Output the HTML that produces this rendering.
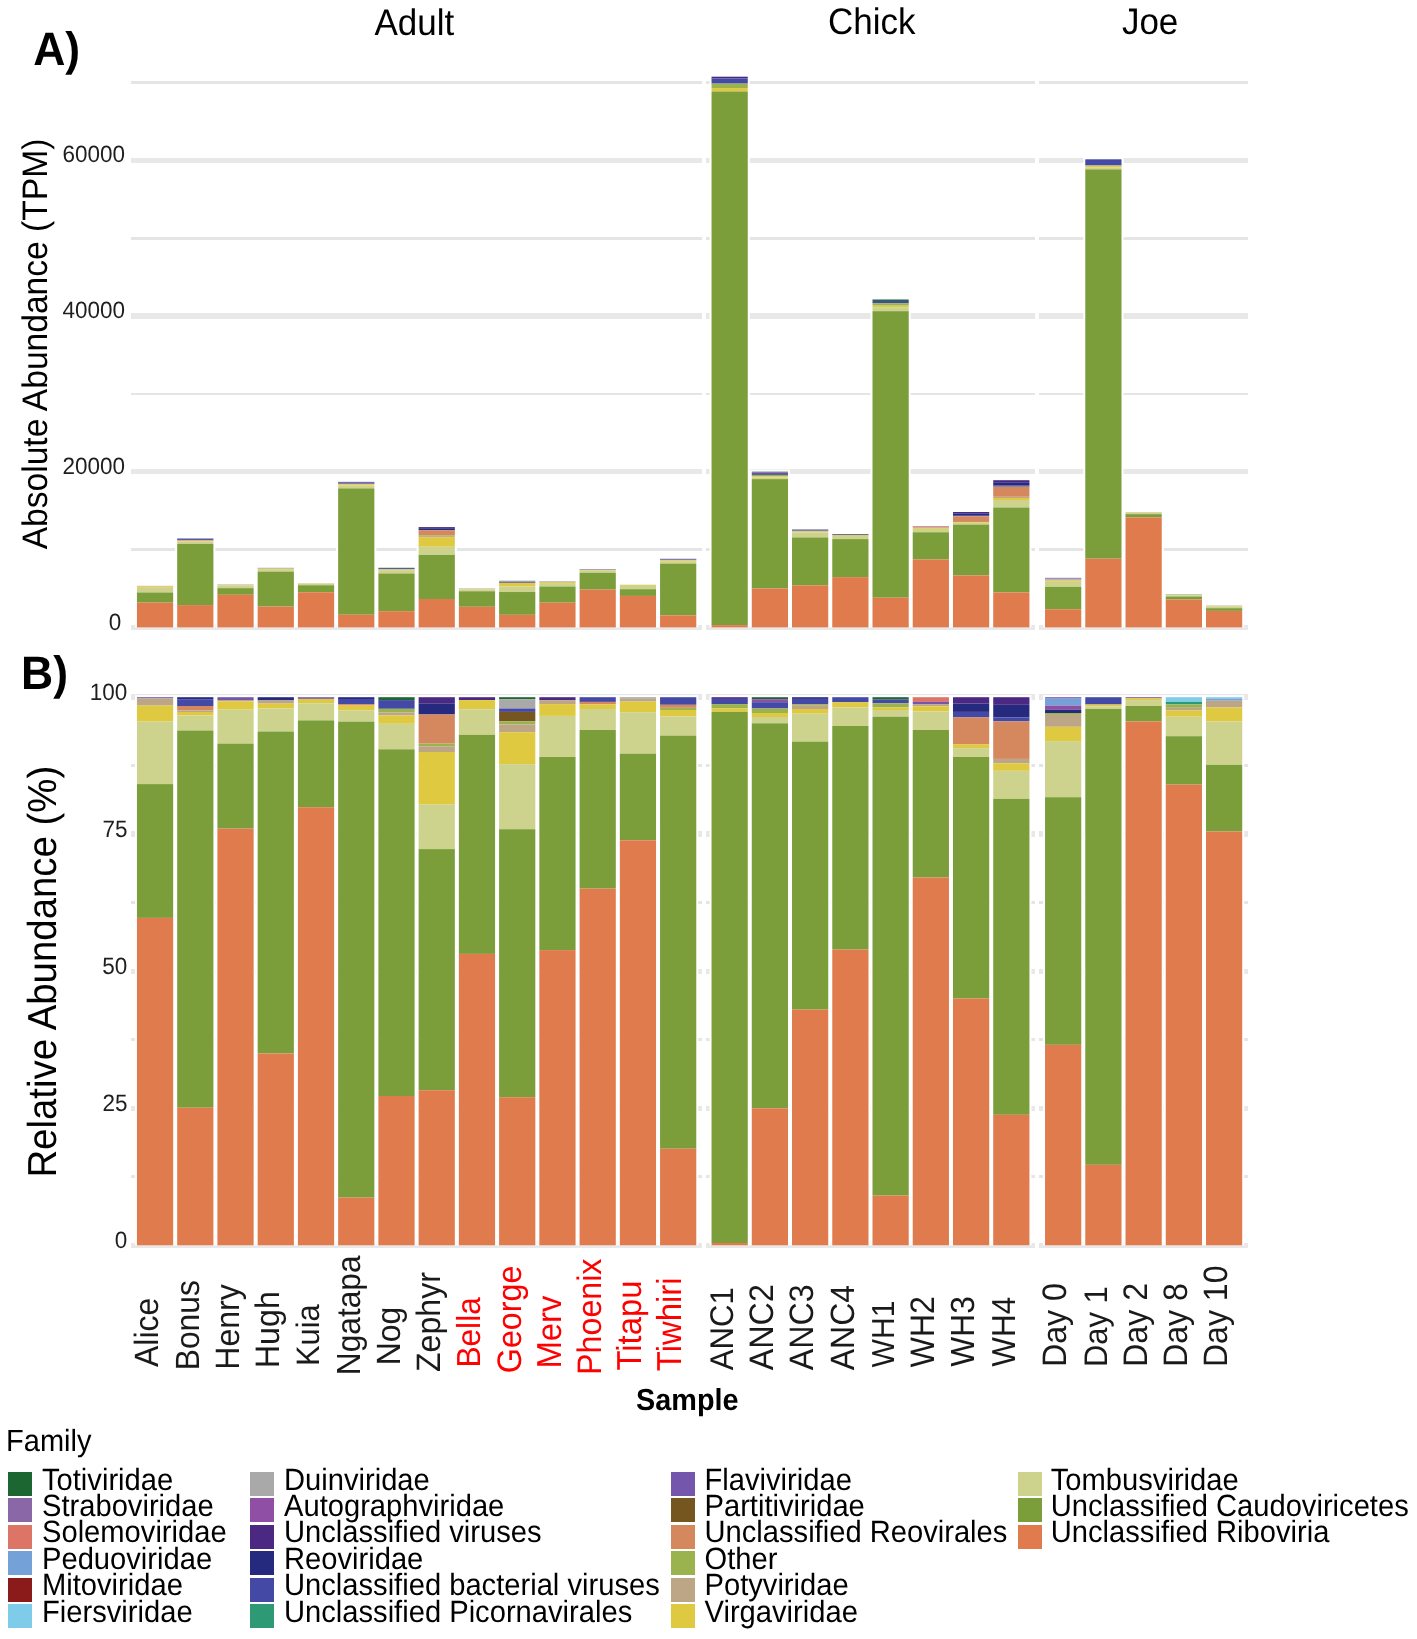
<!DOCTYPE html>
<html><head><meta charset="utf-8"><style>
html,body{margin:0;padding:0;background:#fff;}
body{width:1417px;height:1639px;overflow:hidden;}
svg{display:block;will-change:transform;}
text{font-family:"Liberation Sans",sans-serif;}
</style></head><body>
<svg width="1417" height="1639" viewBox="0 0 1417 1639" shape-rendering="crispEdges" text-rendering="geometricPrecision">
<rect x="0" y="0" width="1417" height="1639" fill="#fff"/>
<rect x="130.90" y="624.65" width="571.41" height="5.5" fill="#E8E8E8"/>
<rect x="130.90" y="548.17" width="571.41" height="2.8" fill="#E5E5E5"/>
<rect x="130.90" y="468.98" width="571.41" height="5.5" fill="#E8E8E8"/>
<rect x="130.90" y="392.50" width="571.41" height="2.8" fill="#E5E5E5"/>
<rect x="130.90" y="313.32" width="571.41" height="5.5" fill="#E8E8E8"/>
<rect x="130.90" y="236.83" width="571.41" height="2.8" fill="#E5E5E5"/>
<rect x="130.90" y="157.65" width="571.41" height="5.5" fill="#E8E8E8"/>
<rect x="130.90" y="81.17" width="571.41" height="2.8" fill="#E5E5E5"/>
<rect x="130.90" y="1242.55" width="571.41" height="5.5" fill="#E8E8E8"/>
<rect x="130.90" y="1175.39" width="571.41" height="2.8" fill="#E5E5E5"/>
<rect x="130.90" y="1105.53" width="571.41" height="5.5" fill="#E8E8E8"/>
<rect x="130.90" y="1038.36" width="571.41" height="2.8" fill="#E5E5E5"/>
<rect x="130.90" y="968.50" width="571.41" height="5.5" fill="#E8E8E8"/>
<rect x="130.90" y="901.34" width="571.41" height="2.8" fill="#E5E5E5"/>
<rect x="130.90" y="831.48" width="571.41" height="5.5" fill="#E8E8E8"/>
<rect x="130.90" y="764.31" width="571.41" height="2.8" fill="#E5E5E5"/>
<rect x="130.90" y="694.45" width="571.41" height="5.5" fill="#E8E8E8"/>
<rect x="705.50" y="624.65" width="329.97" height="5.5" fill="#E8E8E8"/>
<rect x="705.50" y="548.17" width="329.97" height="2.8" fill="#E5E5E5"/>
<rect x="705.50" y="468.98" width="329.97" height="5.5" fill="#E8E8E8"/>
<rect x="705.50" y="392.50" width="329.97" height="2.8" fill="#E5E5E5"/>
<rect x="705.50" y="313.32" width="329.97" height="5.5" fill="#E8E8E8"/>
<rect x="705.50" y="236.83" width="329.97" height="2.8" fill="#E5E5E5"/>
<rect x="705.50" y="157.65" width="329.97" height="5.5" fill="#E8E8E8"/>
<rect x="705.50" y="81.17" width="329.97" height="2.8" fill="#E5E5E5"/>
<rect x="705.50" y="1242.55" width="329.97" height="5.5" fill="#E8E8E8"/>
<rect x="705.50" y="1175.39" width="329.97" height="2.8" fill="#E5E5E5"/>
<rect x="705.50" y="1105.53" width="329.97" height="5.5" fill="#E8E8E8"/>
<rect x="705.50" y="1038.36" width="329.97" height="2.8" fill="#E5E5E5"/>
<rect x="705.50" y="968.50" width="329.97" height="5.5" fill="#E8E8E8"/>
<rect x="705.50" y="901.34" width="329.97" height="2.8" fill="#E5E5E5"/>
<rect x="705.50" y="831.48" width="329.97" height="5.5" fill="#E8E8E8"/>
<rect x="705.50" y="764.31" width="329.97" height="2.8" fill="#E5E5E5"/>
<rect x="705.50" y="694.45" width="329.97" height="5.5" fill="#E8E8E8"/>
<rect x="1039.00" y="624.65" width="209.25" height="5.5" fill="#E8E8E8"/>
<rect x="1039.00" y="548.17" width="209.25" height="2.8" fill="#E5E5E5"/>
<rect x="1039.00" y="468.98" width="209.25" height="5.5" fill="#E8E8E8"/>
<rect x="1039.00" y="392.50" width="209.25" height="2.8" fill="#E5E5E5"/>
<rect x="1039.00" y="313.32" width="209.25" height="5.5" fill="#E8E8E8"/>
<rect x="1039.00" y="236.83" width="209.25" height="2.8" fill="#E5E5E5"/>
<rect x="1039.00" y="157.65" width="209.25" height="5.5" fill="#E8E8E8"/>
<rect x="1039.00" y="81.17" width="209.25" height="2.8" fill="#E5E5E5"/>
<rect x="1039.00" y="1242.55" width="209.25" height="5.5" fill="#E8E8E8"/>
<rect x="1039.00" y="1175.39" width="209.25" height="2.8" fill="#E5E5E5"/>
<rect x="1039.00" y="1105.53" width="209.25" height="5.5" fill="#E8E8E8"/>
<rect x="1039.00" y="1038.36" width="209.25" height="2.8" fill="#E5E5E5"/>
<rect x="1039.00" y="968.50" width="209.25" height="5.5" fill="#E8E8E8"/>
<rect x="1039.00" y="901.34" width="209.25" height="2.8" fill="#E5E5E5"/>
<rect x="1039.00" y="831.48" width="209.25" height="5.5" fill="#E8E8E8"/>
<rect x="1039.00" y="764.31" width="209.25" height="2.8" fill="#E5E5E5"/>
<rect x="1039.00" y="694.45" width="209.25" height="5.5" fill="#E8E8E8"/>
<g shape-rendering="auto">
<rect x="134.94" y="695.20" width="40.22" height="550.10" fill="#fff"/>
<rect x="134.94" y="583.90" width="40.22" height="43.50" fill="#fff"/>
<rect x="136.94" y="697.20" width="36.22" height="1.20" fill="#7456AD"/>
<rect x="136.94" y="698.40" width="36.22" height="7.20" fill="#BDA685"/>
<rect x="136.94" y="705.60" width="36.22" height="16.00" fill="#DFC940"/>
<rect x="136.94" y="721.60" width="36.22" height="62.50" fill="#CDD38D"/>
<rect x="136.94" y="784.10" width="36.22" height="133.80" fill="#7B9E3B"/>
<rect x="136.94" y="917.90" width="36.22" height="327.40" fill="#E07B4E"/>
<rect x="136.94" y="585.90" width="36.22" height="0.09" fill="#7456AD"/>
<rect x="136.94" y="585.99" width="36.22" height="0.55" fill="#BDA685"/>
<rect x="136.94" y="586.54" width="36.22" height="1.21" fill="#DFC940"/>
<rect x="136.94" y="587.75" width="36.22" height="4.73" fill="#CDD38D"/>
<rect x="136.94" y="592.48" width="36.22" height="10.13" fill="#7B9E3B"/>
<rect x="136.94" y="602.61" width="36.22" height="24.79" fill="#E07B4E"/>
<rect x="175.18" y="695.20" width="40.22" height="550.10" fill="#fff"/>
<rect x="175.18" y="536.50" width="40.22" height="90.90" fill="#fff"/>
<rect x="177.18" y="697.20" width="36.22" height="2.00" fill="#262A7F"/>
<rect x="177.18" y="699.20" width="36.22" height="6.80" fill="#4349A5"/>
<rect x="177.18" y="706.00" width="36.22" height="4.50" fill="#D5875E"/>
<rect x="177.18" y="710.50" width="36.22" height="1.50" fill="#BDA685"/>
<rect x="177.18" y="712.00" width="36.22" height="3.50" fill="#DFC940"/>
<rect x="177.18" y="715.50" width="36.22" height="15.00" fill="#CDD38D"/>
<rect x="177.18" y="730.50" width="36.22" height="377.20" fill="#7B9E3B"/>
<rect x="177.18" y="1107.70" width="36.22" height="137.60" fill="#E07B4E"/>
<rect x="177.18" y="538.50" width="36.22" height="0.32" fill="#262A7F"/>
<rect x="177.18" y="538.82" width="36.22" height="1.10" fill="#4349A5"/>
<rect x="177.18" y="539.93" width="36.22" height="0.73" fill="#D5875E"/>
<rect x="177.18" y="540.66" width="36.22" height="0.24" fill="#BDA685"/>
<rect x="177.18" y="540.90" width="36.22" height="0.57" fill="#DFC940"/>
<rect x="177.18" y="541.47" width="36.22" height="2.43" fill="#CDD38D"/>
<rect x="177.18" y="543.90" width="36.22" height="61.18" fill="#7B9E3B"/>
<rect x="177.18" y="605.08" width="36.22" height="22.32" fill="#E07B4E"/>
<rect x="215.42" y="695.20" width="40.22" height="550.10" fill="#fff"/>
<rect x="215.42" y="582.50" width="40.22" height="44.90" fill="#fff"/>
<rect x="217.42" y="697.20" width="36.22" height="2.80" fill="#7456AD"/>
<rect x="217.42" y="700.00" width="36.22" height="1.40" fill="#BDA685"/>
<rect x="217.42" y="701.40" width="36.22" height="8.20" fill="#DFC940"/>
<rect x="217.42" y="709.60" width="36.22" height="34.00" fill="#CDD38D"/>
<rect x="217.42" y="743.60" width="36.22" height="85.00" fill="#7B9E3B"/>
<rect x="217.42" y="828.60" width="36.22" height="416.70" fill="#E07B4E"/>
<rect x="217.42" y="584.50" width="36.22" height="0.22" fill="#7456AD"/>
<rect x="217.42" y="584.72" width="36.22" height="0.11" fill="#BDA685"/>
<rect x="217.42" y="584.83" width="36.22" height="0.64" fill="#DFC940"/>
<rect x="217.42" y="585.47" width="36.22" height="2.66" fill="#CDD38D"/>
<rect x="217.42" y="588.13" width="36.22" height="6.65" fill="#7B9E3B"/>
<rect x="217.42" y="594.78" width="36.22" height="32.62" fill="#E07B4E"/>
<rect x="255.66" y="695.20" width="40.22" height="550.10" fill="#fff"/>
<rect x="255.66" y="565.90" width="40.22" height="61.50" fill="#fff"/>
<rect x="257.66" y="697.20" width="36.22" height="3.20" fill="#262A7F"/>
<rect x="257.66" y="700.40" width="36.22" height="3.20" fill="#BDA685"/>
<rect x="257.66" y="703.60" width="36.22" height="4.90" fill="#DFC940"/>
<rect x="257.66" y="708.50" width="36.22" height="23.00" fill="#CDD38D"/>
<rect x="257.66" y="731.50" width="36.22" height="322.00" fill="#7B9E3B"/>
<rect x="257.66" y="1053.50" width="36.22" height="191.80" fill="#E07B4E"/>
<rect x="257.66" y="567.90" width="36.22" height="0.35" fill="#262A7F"/>
<rect x="257.66" y="568.25" width="36.22" height="0.35" fill="#BDA685"/>
<rect x="257.66" y="568.59" width="36.22" height="0.53" fill="#DFC940"/>
<rect x="257.66" y="569.13" width="36.22" height="2.50" fill="#CDD38D"/>
<rect x="257.66" y="571.62" width="36.22" height="34.96" fill="#7B9E3B"/>
<rect x="257.66" y="606.58" width="36.22" height="20.82" fill="#E07B4E"/>
<rect x="295.90" y="695.20" width="40.22" height="550.10" fill="#fff"/>
<rect x="295.90" y="581.40" width="40.22" height="46.00" fill="#fff"/>
<rect x="297.90" y="697.20" width="36.22" height="1.70" fill="#7456AD"/>
<rect x="297.90" y="698.90" width="36.22" height="4.40" fill="#DFC940"/>
<rect x="297.90" y="703.30" width="36.22" height="17.10" fill="#CDD38D"/>
<rect x="297.90" y="720.40" width="36.22" height="86.80" fill="#7B9E3B"/>
<rect x="297.90" y="807.20" width="36.22" height="438.10" fill="#E07B4E"/>
<rect x="297.90" y="583.40" width="36.22" height="0.14" fill="#7456AD"/>
<rect x="297.90" y="583.54" width="36.22" height="0.35" fill="#DFC940"/>
<rect x="297.90" y="583.89" width="36.22" height="1.37" fill="#CDD38D"/>
<rect x="297.90" y="585.26" width="36.22" height="6.97" fill="#7B9E3B"/>
<rect x="297.90" y="592.23" width="36.22" height="35.17" fill="#E07B4E"/>
<rect x="336.14" y="695.20" width="40.22" height="550.10" fill="#fff"/>
<rect x="336.14" y="479.90" width="40.22" height="147.50" fill="#fff"/>
<rect x="338.14" y="697.20" width="36.22" height="1.80" fill="#262A7F"/>
<rect x="338.14" y="699.00" width="36.22" height="5.10" fill="#4349A5"/>
<rect x="338.14" y="704.10" width="36.22" height="1.50" fill="#D5875E"/>
<rect x="338.14" y="705.60" width="36.22" height="4.70" fill="#DFC940"/>
<rect x="338.14" y="710.30" width="36.22" height="11.30" fill="#CDD38D"/>
<rect x="338.14" y="721.60" width="36.22" height="476.00" fill="#7B9E3B"/>
<rect x="338.14" y="1197.60" width="36.22" height="47.70" fill="#E07B4E"/>
<rect x="338.14" y="481.90" width="36.22" height="0.48" fill="#262A7F"/>
<rect x="338.14" y="482.38" width="36.22" height="1.35" fill="#4349A5"/>
<rect x="338.14" y="483.73" width="36.22" height="0.40" fill="#D5875E"/>
<rect x="338.14" y="484.13" width="36.22" height="1.25" fill="#DFC940"/>
<rect x="338.14" y="485.38" width="36.22" height="3.00" fill="#CDD38D"/>
<rect x="338.14" y="488.38" width="36.22" height="126.36" fill="#7B9E3B"/>
<rect x="338.14" y="614.74" width="36.22" height="12.66" fill="#E07B4E"/>
<rect x="376.38" y="695.20" width="40.22" height="550.10" fill="#fff"/>
<rect x="376.38" y="565.80" width="40.22" height="61.60" fill="#fff"/>
<rect x="378.38" y="697.20" width="36.22" height="2.90" fill="#1B6631"/>
<rect x="378.38" y="700.10" width="36.22" height="8.70" fill="#4349A5"/>
<rect x="378.38" y="708.80" width="36.22" height="3.70" fill="#9BB34F"/>
<rect x="378.38" y="712.50" width="36.22" height="3.00" fill="#BDA685"/>
<rect x="378.38" y="715.50" width="36.22" height="8.30" fill="#DFC940"/>
<rect x="378.38" y="723.80" width="36.22" height="25.50" fill="#CDD38D"/>
<rect x="378.38" y="749.30" width="36.22" height="346.70" fill="#7B9E3B"/>
<rect x="378.38" y="1096.00" width="36.22" height="149.30" fill="#E07B4E"/>
<rect x="378.38" y="567.80" width="36.22" height="0.32" fill="#1B6631"/>
<rect x="378.38" y="568.12" width="36.22" height="0.95" fill="#4349A5"/>
<rect x="378.38" y="569.06" width="36.22" height="0.40" fill="#9BB34F"/>
<rect x="378.38" y="569.46" width="36.22" height="0.33" fill="#BDA685"/>
<rect x="378.38" y="569.79" width="36.22" height="0.90" fill="#DFC940"/>
<rect x="378.38" y="570.69" width="36.22" height="2.77" fill="#CDD38D"/>
<rect x="378.38" y="573.47" width="36.22" height="37.70" fill="#7B9E3B"/>
<rect x="378.38" y="611.17" width="36.22" height="16.23" fill="#E07B4E"/>
<rect x="416.62" y="695.20" width="40.22" height="550.10" fill="#fff"/>
<rect x="416.62" y="525.10" width="40.22" height="102.30" fill="#fff"/>
<rect x="418.62" y="697.20" width="36.22" height="6.10" fill="#4B2882"/>
<rect x="418.62" y="703.30" width="36.22" height="11.20" fill="#262A7F"/>
<rect x="418.62" y="714.50" width="36.22" height="29.10" fill="#D5875E"/>
<rect x="418.62" y="743.60" width="36.22" height="2.70" fill="#9BB34F"/>
<rect x="418.62" y="746.30" width="36.22" height="5.70" fill="#BDA685"/>
<rect x="418.62" y="752.00" width="36.22" height="52.60" fill="#DFC940"/>
<rect x="418.62" y="804.60" width="36.22" height="44.50" fill="#CDD38D"/>
<rect x="418.62" y="849.10" width="36.22" height="241.10" fill="#7B9E3B"/>
<rect x="418.62" y="1090.20" width="36.22" height="155.10" fill="#E07B4E"/>
<rect x="418.62" y="527.10" width="36.22" height="1.12" fill="#4B2882"/>
<rect x="418.62" y="528.22" width="36.22" height="2.05" fill="#262A7F"/>
<rect x="418.62" y="530.27" width="36.22" height="5.33" fill="#D5875E"/>
<rect x="418.62" y="535.59" width="36.22" height="0.49" fill="#9BB34F"/>
<rect x="418.62" y="536.09" width="36.22" height="1.04" fill="#BDA685"/>
<rect x="418.62" y="537.13" width="36.22" height="9.63" fill="#DFC940"/>
<rect x="418.62" y="546.75" width="36.22" height="8.14" fill="#CDD38D"/>
<rect x="418.62" y="554.90" width="36.22" height="44.12" fill="#7B9E3B"/>
<rect x="418.62" y="599.02" width="36.22" height="28.38" fill="#E07B4E"/>
<rect x="456.86" y="695.20" width="40.22" height="550.10" fill="#fff"/>
<rect x="456.86" y="586.60" width="40.22" height="40.80" fill="#fff"/>
<rect x="458.86" y="697.20" width="36.22" height="2.90" fill="#4B2882"/>
<rect x="458.86" y="700.10" width="36.22" height="9.20" fill="#DFC940"/>
<rect x="458.86" y="709.30" width="36.22" height="25.50" fill="#CDD38D"/>
<rect x="458.86" y="734.80" width="36.22" height="219.10" fill="#7B9E3B"/>
<rect x="458.86" y="953.90" width="36.22" height="291.40" fill="#E07B4E"/>
<rect x="458.86" y="588.60" width="36.22" height="0.21" fill="#4B2882"/>
<rect x="458.86" y="588.81" width="36.22" height="0.65" fill="#DFC940"/>
<rect x="458.86" y="589.46" width="36.22" height="1.81" fill="#CDD38D"/>
<rect x="458.86" y="591.26" width="36.22" height="15.51" fill="#7B9E3B"/>
<rect x="458.86" y="606.77" width="36.22" height="20.63" fill="#E07B4E"/>
<rect x="497.10" y="695.20" width="40.22" height="550.10" fill="#fff"/>
<rect x="497.10" y="578.80" width="40.22" height="48.60" fill="#fff"/>
<rect x="499.10" y="697.20" width="36.22" height="2.00" fill="#1B6631"/>
<rect x="499.10" y="699.20" width="36.22" height="9.30" fill="#A9A9A9"/>
<rect x="499.10" y="708.50" width="36.22" height="3.40" fill="#4349A5"/>
<rect x="499.10" y="711.90" width="36.22" height="9.50" fill="#76561F"/>
<rect x="499.10" y="721.40" width="36.22" height="3.00" fill="#9BB34F"/>
<rect x="499.10" y="724.40" width="36.22" height="7.80" fill="#BDA685"/>
<rect x="499.10" y="732.20" width="36.22" height="31.90" fill="#DFC940"/>
<rect x="499.10" y="764.10" width="36.22" height="65.10" fill="#CDD38D"/>
<rect x="499.10" y="829.20" width="36.22" height="268.00" fill="#7B9E3B"/>
<rect x="499.10" y="1097.20" width="36.22" height="148.10" fill="#E07B4E"/>
<rect x="499.10" y="580.80" width="36.22" height="0.17" fill="#1B6631"/>
<rect x="499.10" y="580.97" width="36.22" height="0.79" fill="#A9A9A9"/>
<rect x="499.10" y="581.76" width="36.22" height="0.29" fill="#4349A5"/>
<rect x="499.10" y="582.05" width="36.22" height="0.81" fill="#76561F"/>
<rect x="499.10" y="582.86" width="36.22" height="0.26" fill="#9BB34F"/>
<rect x="499.10" y="583.11" width="36.22" height="0.66" fill="#BDA685"/>
<rect x="499.10" y="583.78" width="36.22" height="2.71" fill="#DFC940"/>
<rect x="499.10" y="586.49" width="36.22" height="5.53" fill="#CDD38D"/>
<rect x="499.10" y="592.02" width="36.22" height="22.79" fill="#7B9E3B"/>
<rect x="499.10" y="614.81" width="36.22" height="12.59" fill="#E07B4E"/>
<rect x="537.34" y="695.20" width="40.22" height="550.10" fill="#fff"/>
<rect x="537.34" y="579.50" width="40.22" height="47.90" fill="#fff"/>
<rect x="539.34" y="697.20" width="36.22" height="2.90" fill="#4B2882"/>
<rect x="539.34" y="700.10" width="36.22" height="4.00" fill="#BDA685"/>
<rect x="539.34" y="704.10" width="36.22" height="11.80" fill="#DFC940"/>
<rect x="539.34" y="715.90" width="36.22" height="41.10" fill="#CDD38D"/>
<rect x="539.34" y="757.00" width="36.22" height="193.10" fill="#7B9E3B"/>
<rect x="539.34" y="950.10" width="36.22" height="295.20" fill="#E07B4E"/>
<rect x="539.34" y="581.50" width="36.22" height="0.24" fill="#4B2882"/>
<rect x="539.34" y="581.74" width="36.22" height="0.33" fill="#BDA685"/>
<rect x="539.34" y="582.08" width="36.22" height="0.99" fill="#DFC940"/>
<rect x="539.34" y="583.07" width="36.22" height="3.44" fill="#CDD38D"/>
<rect x="539.34" y="586.51" width="36.22" height="16.17" fill="#7B9E3B"/>
<rect x="539.34" y="602.68" width="36.22" height="24.72" fill="#E07B4E"/>
<rect x="577.58" y="695.20" width="40.22" height="550.10" fill="#fff"/>
<rect x="577.58" y="567.30" width="40.22" height="60.10" fill="#fff"/>
<rect x="579.58" y="697.20" width="36.22" height="4.70" fill="#4349A5"/>
<rect x="579.58" y="701.90" width="36.22" height="2.50" fill="#D5875E"/>
<rect x="579.58" y="704.40" width="36.22" height="4.60" fill="#DFC940"/>
<rect x="579.58" y="709.00" width="36.22" height="21.00" fill="#CDD38D"/>
<rect x="579.58" y="730.00" width="36.22" height="158.60" fill="#7B9E3B"/>
<rect x="579.58" y="888.60" width="36.22" height="356.70" fill="#E07B4E"/>
<rect x="579.58" y="569.30" width="36.22" height="0.50" fill="#4349A5"/>
<rect x="579.58" y="569.80" width="36.22" height="0.27" fill="#D5875E"/>
<rect x="579.58" y="570.06" width="36.22" height="0.49" fill="#DFC940"/>
<rect x="579.58" y="570.55" width="36.22" height="2.23" fill="#CDD38D"/>
<rect x="579.58" y="572.78" width="36.22" height="16.81" fill="#7B9E3B"/>
<rect x="579.58" y="589.59" width="36.22" height="37.81" fill="#E07B4E"/>
<rect x="617.82" y="695.20" width="40.22" height="550.10" fill="#fff"/>
<rect x="617.82" y="582.80" width="40.22" height="44.60" fill="#fff"/>
<rect x="619.82" y="697.20" width="36.22" height="1.60" fill="#A9A9A9"/>
<rect x="619.82" y="698.80" width="36.22" height="2.80" fill="#BDA685"/>
<rect x="619.82" y="701.60" width="36.22" height="10.60" fill="#DFC940"/>
<rect x="619.82" y="712.20" width="36.22" height="41.50" fill="#CDD38D"/>
<rect x="619.82" y="753.70" width="36.22" height="86.60" fill="#7B9E3B"/>
<rect x="619.82" y="840.30" width="36.22" height="405.00" fill="#E07B4E"/>
<rect x="619.82" y="584.80" width="36.22" height="0.12" fill="#A9A9A9"/>
<rect x="619.82" y="584.92" width="36.22" height="0.22" fill="#BDA685"/>
<rect x="619.82" y="585.14" width="36.22" height="0.82" fill="#DFC940"/>
<rect x="619.82" y="585.97" width="36.22" height="3.23" fill="#CDD38D"/>
<rect x="619.82" y="589.19" width="36.22" height="6.73" fill="#7B9E3B"/>
<rect x="619.82" y="595.92" width="36.22" height="31.48" fill="#E07B4E"/>
<rect x="658.06" y="695.20" width="40.22" height="550.10" fill="#fff"/>
<rect x="658.06" y="556.80" width="40.22" height="70.60" fill="#fff"/>
<rect x="660.06" y="697.20" width="36.22" height="7.60" fill="#4349A5"/>
<rect x="660.06" y="704.80" width="36.22" height="3.00" fill="#D5875E"/>
<rect x="660.06" y="707.80" width="36.22" height="2.20" fill="#9BB34F"/>
<rect x="660.06" y="710.00" width="36.22" height="6.40" fill="#DFC940"/>
<rect x="660.06" y="716.40" width="36.22" height="19.20" fill="#CDD38D"/>
<rect x="660.06" y="735.60" width="36.22" height="413.10" fill="#7B9E3B"/>
<rect x="660.06" y="1148.70" width="36.22" height="96.60" fill="#E07B4E"/>
<rect x="660.06" y="558.80" width="36.22" height="0.95" fill="#4349A5"/>
<rect x="660.06" y="559.75" width="36.22" height="0.38" fill="#D5875E"/>
<rect x="660.06" y="560.13" width="36.22" height="0.28" fill="#9BB34F"/>
<rect x="660.06" y="560.40" width="36.22" height="0.80" fill="#DFC940"/>
<rect x="660.06" y="561.20" width="36.22" height="2.40" fill="#CDD38D"/>
<rect x="660.06" y="563.61" width="36.22" height="51.70" fill="#7B9E3B"/>
<rect x="660.06" y="615.31" width="36.22" height="12.09" fill="#E07B4E"/>
<rect x="709.54" y="695.20" width="40.22" height="550.10" fill="#fff"/>
<rect x="709.54" y="74.70" width="40.22" height="552.70" fill="#fff"/>
<rect x="711.54" y="697.20" width="36.22" height="1.70" fill="#4B2882"/>
<rect x="711.54" y="698.90" width="36.22" height="5.20" fill="#4349A5"/>
<rect x="711.54" y="704.10" width="36.22" height="4.40" fill="#9BB34F"/>
<rect x="711.54" y="708.50" width="36.22" height="3.40" fill="#DFC940"/>
<rect x="711.54" y="711.90" width="36.22" height="531.10" fill="#7B9E3B"/>
<rect x="711.54" y="1243.00" width="36.22" height="2.30" fill="#E07B4E"/>
<rect x="711.54" y="76.70" width="36.22" height="1.71" fill="#4B2882"/>
<rect x="711.54" y="78.41" width="36.22" height="5.22" fill="#4349A5"/>
<rect x="711.54" y="83.63" width="36.22" height="4.42" fill="#9BB34F"/>
<rect x="711.54" y="88.05" width="36.22" height="3.42" fill="#DFC940"/>
<rect x="711.54" y="91.47" width="36.22" height="533.62" fill="#7B9E3B"/>
<rect x="711.54" y="625.09" width="36.22" height="2.31" fill="#E07B4E"/>
<rect x="749.78" y="695.20" width="40.22" height="550.10" fill="#fff"/>
<rect x="749.78" y="469.70" width="40.22" height="157.70" fill="#fff"/>
<rect x="751.78" y="697.20" width="36.22" height="2.00" fill="#1B6631"/>
<rect x="751.78" y="699.20" width="36.22" height="3.00" fill="#8E4FA5"/>
<rect x="751.78" y="702.20" width="36.22" height="6.30" fill="#4349A5"/>
<rect x="751.78" y="708.50" width="36.22" height="4.50" fill="#9BB34F"/>
<rect x="751.78" y="713.00" width="36.22" height="4.00" fill="#DFC940"/>
<rect x="751.78" y="717.00" width="36.22" height="6.30" fill="#CDD38D"/>
<rect x="751.78" y="723.30" width="36.22" height="385.00" fill="#7B9E3B"/>
<rect x="751.78" y="1108.30" width="36.22" height="137.00" fill="#E07B4E"/>
<rect x="751.78" y="471.70" width="36.22" height="0.57" fill="#1B6631"/>
<rect x="751.78" y="472.27" width="36.22" height="0.85" fill="#8E4FA5"/>
<rect x="751.78" y="473.12" width="36.22" height="1.79" fill="#4349A5"/>
<rect x="751.78" y="474.91" width="36.22" height="1.28" fill="#9BB34F"/>
<rect x="751.78" y="476.19" width="36.22" height="1.14" fill="#DFC940"/>
<rect x="751.78" y="477.32" width="36.22" height="1.79" fill="#CDD38D"/>
<rect x="751.78" y="479.11" width="36.22" height="109.37" fill="#7B9E3B"/>
<rect x="751.78" y="588.48" width="36.22" height="38.92" fill="#E07B4E"/>
<rect x="790.02" y="695.20" width="40.22" height="550.10" fill="#fff"/>
<rect x="790.02" y="527.50" width="40.22" height="99.90" fill="#fff"/>
<rect x="792.02" y="697.20" width="36.22" height="1.70" fill="#262A7F"/>
<rect x="792.02" y="698.90" width="36.22" height="5.20" fill="#4349A5"/>
<rect x="792.02" y="704.10" width="36.22" height="1.00" fill="#9BB34F"/>
<rect x="792.02" y="705.10" width="36.22" height="3.90" fill="#BDA685"/>
<rect x="792.02" y="709.00" width="36.22" height="4.70" fill="#DFC940"/>
<rect x="792.02" y="713.70" width="36.22" height="27.90" fill="#CDD38D"/>
<rect x="792.02" y="741.60" width="36.22" height="268.00" fill="#7B9E3B"/>
<rect x="792.02" y="1009.60" width="36.22" height="235.70" fill="#E07B4E"/>
<rect x="792.02" y="529.50" width="36.22" height="0.30" fill="#262A7F"/>
<rect x="792.02" y="529.80" width="36.22" height="0.93" fill="#4349A5"/>
<rect x="792.02" y="530.73" width="36.22" height="0.18" fill="#9BB34F"/>
<rect x="792.02" y="530.91" width="36.22" height="0.70" fill="#BDA685"/>
<rect x="792.02" y="531.61" width="36.22" height="0.84" fill="#DFC940"/>
<rect x="792.02" y="532.45" width="36.22" height="4.98" fill="#CDD38D"/>
<rect x="792.02" y="537.43" width="36.22" height="47.87" fill="#7B9E3B"/>
<rect x="792.02" y="585.30" width="36.22" height="42.10" fill="#E07B4E"/>
<rect x="830.26" y="695.20" width="40.22" height="550.10" fill="#fff"/>
<rect x="830.26" y="532.20" width="40.22" height="95.20" fill="#fff"/>
<rect x="832.26" y="697.20" width="36.22" height="5.00" fill="#4349A5"/>
<rect x="832.26" y="702.20" width="36.22" height="5.30" fill="#DFC940"/>
<rect x="832.26" y="707.50" width="36.22" height="18.50" fill="#CDD38D"/>
<rect x="832.26" y="726.00" width="36.22" height="223.60" fill="#7B9E3B"/>
<rect x="832.26" y="949.60" width="36.22" height="295.70" fill="#E07B4E"/>
<rect x="832.26" y="534.20" width="36.22" height="0.85" fill="#4349A5"/>
<rect x="832.26" y="535.05" width="36.22" height="0.90" fill="#DFC940"/>
<rect x="832.26" y="535.95" width="36.22" height="3.15" fill="#CDD38D"/>
<rect x="832.26" y="539.10" width="36.22" height="38.02" fill="#7B9E3B"/>
<rect x="832.26" y="577.12" width="36.22" height="50.28" fill="#E07B4E"/>
<rect x="870.50" y="695.20" width="40.22" height="550.10" fill="#fff"/>
<rect x="870.50" y="297.50" width="40.22" height="329.90" fill="#fff"/>
<rect x="872.50" y="697.20" width="36.22" height="2.40" fill="#1B6631"/>
<rect x="872.50" y="699.60" width="36.22" height="3.70" fill="#4349A5"/>
<rect x="872.50" y="703.30" width="36.22" height="4.20" fill="#9BB34F"/>
<rect x="872.50" y="707.50" width="36.22" height="2.50" fill="#DFC940"/>
<rect x="872.50" y="710.00" width="36.22" height="6.70" fill="#CDD38D"/>
<rect x="872.50" y="716.70" width="36.22" height="478.90" fill="#7B9E3B"/>
<rect x="872.50" y="1195.60" width="36.22" height="49.70" fill="#E07B4E"/>
<rect x="872.50" y="299.50" width="36.22" height="1.44" fill="#1B6631"/>
<rect x="872.50" y="300.94" width="36.22" height="2.21" fill="#4349A5"/>
<rect x="872.50" y="303.15" width="36.22" height="2.51" fill="#9BB34F"/>
<rect x="872.50" y="305.66" width="36.22" height="1.50" fill="#DFC940"/>
<rect x="872.50" y="307.16" width="36.22" height="4.01" fill="#CDD38D"/>
<rect x="872.50" y="311.17" width="36.22" height="286.50" fill="#7B9E3B"/>
<rect x="872.50" y="597.67" width="36.22" height="29.73" fill="#E07B4E"/>
<rect x="910.74" y="695.20" width="40.22" height="550.10" fill="#fff"/>
<rect x="910.74" y="524.20" width="40.22" height="103.20" fill="#fff"/>
<rect x="912.74" y="697.20" width="36.22" height="4.70" fill="#DD7566"/>
<rect x="912.74" y="701.90" width="36.22" height="2.20" fill="#7456AD"/>
<rect x="912.74" y="704.10" width="36.22" height="2.20" fill="#BDA685"/>
<rect x="912.74" y="706.30" width="36.22" height="5.20" fill="#DFC940"/>
<rect x="912.74" y="711.50" width="36.22" height="18.50" fill="#CDD38D"/>
<rect x="912.74" y="730.00" width="36.22" height="147.50" fill="#7B9E3B"/>
<rect x="912.74" y="877.50" width="36.22" height="367.80" fill="#E07B4E"/>
<rect x="912.74" y="526.20" width="36.22" height="0.87" fill="#DD7566"/>
<rect x="912.74" y="527.07" width="36.22" height="0.41" fill="#7456AD"/>
<rect x="912.74" y="527.47" width="36.22" height="0.41" fill="#BDA685"/>
<rect x="912.74" y="527.88" width="36.22" height="0.96" fill="#DFC940"/>
<rect x="912.74" y="528.84" width="36.22" height="3.42" fill="#CDD38D"/>
<rect x="912.74" y="532.26" width="36.22" height="27.23" fill="#7B9E3B"/>
<rect x="912.74" y="559.49" width="36.22" height="67.91" fill="#E07B4E"/>
<rect x="950.98" y="695.20" width="40.22" height="550.10" fill="#fff"/>
<rect x="950.98" y="510.00" width="40.22" height="117.40" fill="#fff"/>
<rect x="952.98" y="697.20" width="36.22" height="6.40" fill="#4B2882"/>
<rect x="952.98" y="703.60" width="36.22" height="8.30" fill="#262A7F"/>
<rect x="952.98" y="711.90" width="36.22" height="5.50" fill="#4349A5"/>
<rect x="952.98" y="717.40" width="36.22" height="27.10" fill="#D5875E"/>
<rect x="952.98" y="744.50" width="36.22" height="3.60" fill="#DFC940"/>
<rect x="952.98" y="748.10" width="36.22" height="8.90" fill="#CDD38D"/>
<rect x="952.98" y="757.00" width="36.22" height="241.50" fill="#7B9E3B"/>
<rect x="952.98" y="998.50" width="36.22" height="246.80" fill="#E07B4E"/>
<rect x="952.98" y="512.00" width="36.22" height="1.35" fill="#4B2882"/>
<rect x="952.98" y="513.35" width="36.22" height="1.75" fill="#262A7F"/>
<rect x="952.98" y="515.10" width="36.22" height="1.16" fill="#4349A5"/>
<rect x="952.98" y="516.25" width="36.22" height="5.71" fill="#D5875E"/>
<rect x="952.98" y="521.96" width="36.22" height="0.76" fill="#DFC940"/>
<rect x="952.98" y="522.72" width="36.22" height="1.87" fill="#CDD38D"/>
<rect x="952.98" y="524.59" width="36.22" height="50.85" fill="#7B9E3B"/>
<rect x="952.98" y="575.44" width="36.22" height="51.96" fill="#E07B4E"/>
<rect x="991.22" y="695.20" width="40.22" height="550.10" fill="#fff"/>
<rect x="991.22" y="478.20" width="40.22" height="149.20" fill="#fff"/>
<rect x="993.22" y="697.20" width="36.22" height="7.60" fill="#4B2882"/>
<rect x="993.22" y="704.80" width="36.22" height="12.60" fill="#262A7F"/>
<rect x="993.22" y="717.40" width="36.22" height="4.00" fill="#4349A5"/>
<rect x="993.22" y="721.40" width="36.22" height="37.50" fill="#D5875E"/>
<rect x="993.22" y="758.90" width="36.22" height="4.50" fill="#BDA685"/>
<rect x="993.22" y="763.40" width="36.22" height="7.40" fill="#DFC940"/>
<rect x="993.22" y="770.80" width="36.22" height="28.10" fill="#CDD38D"/>
<rect x="993.22" y="798.90" width="36.22" height="315.90" fill="#7B9E3B"/>
<rect x="993.22" y="1114.80" width="36.22" height="130.50" fill="#E07B4E"/>
<rect x="993.22" y="480.20" width="36.22" height="2.04" fill="#4B2882"/>
<rect x="993.22" y="482.24" width="36.22" height="3.38" fill="#262A7F"/>
<rect x="993.22" y="485.62" width="36.22" height="1.07" fill="#4349A5"/>
<rect x="993.22" y="486.70" width="36.22" height="10.07" fill="#D5875E"/>
<rect x="993.22" y="496.77" width="36.22" height="1.21" fill="#BDA685"/>
<rect x="993.22" y="497.98" width="36.22" height="1.99" fill="#DFC940"/>
<rect x="993.22" y="499.97" width="36.22" height="7.55" fill="#CDD38D"/>
<rect x="993.22" y="507.51" width="36.22" height="84.84" fill="#7B9E3B"/>
<rect x="993.22" y="592.35" width="36.22" height="35.05" fill="#E07B4E"/>
<rect x="1043.04" y="695.20" width="40.22" height="550.10" fill="#fff"/>
<rect x="1043.04" y="575.80" width="40.22" height="51.60" fill="#fff"/>
<rect x="1045.04" y="697.20" width="36.22" height="1.40" fill="#7456AD"/>
<rect x="1045.04" y="698.60" width="36.22" height="7.00" fill="#74A1D8"/>
<rect x="1045.04" y="705.60" width="36.22" height="4.00" fill="#8E4FA5"/>
<rect x="1045.04" y="709.60" width="36.22" height="3.40" fill="#262A7F"/>
<rect x="1045.04" y="713.00" width="36.22" height="1.90" fill="#9BB34F"/>
<rect x="1045.04" y="714.90" width="36.22" height="11.90" fill="#BDA685"/>
<rect x="1045.04" y="726.80" width="36.22" height="14.30" fill="#DFC940"/>
<rect x="1045.04" y="741.10" width="36.22" height="56.10" fill="#CDD38D"/>
<rect x="1045.04" y="797.20" width="36.22" height="247.60" fill="#7B9E3B"/>
<rect x="1045.04" y="1044.80" width="36.22" height="200.50" fill="#E07B4E"/>
<rect x="1045.04" y="577.80" width="36.22" height="0.13" fill="#7456AD"/>
<rect x="1045.04" y="577.93" width="36.22" height="0.63" fill="#74A1D8"/>
<rect x="1045.04" y="578.56" width="36.22" height="0.36" fill="#8E4FA5"/>
<rect x="1045.04" y="578.92" width="36.22" height="0.31" fill="#262A7F"/>
<rect x="1045.04" y="579.23" width="36.22" height="0.17" fill="#9BB34F"/>
<rect x="1045.04" y="579.40" width="36.22" height="1.08" fill="#BDA685"/>
<rect x="1045.04" y="580.48" width="36.22" height="1.29" fill="#DFC940"/>
<rect x="1045.04" y="581.77" width="36.22" height="5.08" fill="#CDD38D"/>
<rect x="1045.04" y="586.85" width="36.22" height="22.41" fill="#7B9E3B"/>
<rect x="1045.04" y="609.26" width="36.22" height="18.14" fill="#E07B4E"/>
<rect x="1083.28" y="695.20" width="40.22" height="550.10" fill="#fff"/>
<rect x="1083.28" y="157.30" width="40.22" height="470.10" fill="#fff"/>
<rect x="1085.28" y="697.20" width="36.22" height="7.30" fill="#4349A5"/>
<rect x="1085.28" y="704.50" width="36.22" height="2.00" fill="#DFC940"/>
<rect x="1085.28" y="706.50" width="36.22" height="2.50" fill="#CDD38D"/>
<rect x="1085.28" y="709.00" width="36.22" height="455.80" fill="#7B9E3B"/>
<rect x="1085.28" y="1164.80" width="36.22" height="80.50" fill="#E07B4E"/>
<rect x="1085.28" y="159.30" width="36.22" height="6.23" fill="#4349A5"/>
<rect x="1085.28" y="165.53" width="36.22" height="1.71" fill="#DFC940"/>
<rect x="1085.28" y="167.24" width="36.22" height="2.14" fill="#CDD38D"/>
<rect x="1085.28" y="169.38" width="36.22" height="389.27" fill="#7B9E3B"/>
<rect x="1085.28" y="558.65" width="36.22" height="68.75" fill="#E07B4E"/>
<rect x="1123.52" y="695.20" width="40.22" height="550.10" fill="#fff"/>
<rect x="1123.52" y="510.30" width="40.22" height="117.10" fill="#fff"/>
<rect x="1125.52" y="697.20" width="36.22" height="1.00" fill="#7456AD"/>
<rect x="1125.52" y="698.20" width="36.22" height="1.90" fill="#DFC940"/>
<rect x="1125.52" y="700.10" width="36.22" height="5.90" fill="#CDD38D"/>
<rect x="1125.52" y="706.00" width="36.22" height="15.40" fill="#7B9E3B"/>
<rect x="1125.52" y="721.40" width="36.22" height="523.90" fill="#E07B4E"/>
<rect x="1125.52" y="512.30" width="36.22" height="0.21" fill="#7456AD"/>
<rect x="1125.52" y="512.51" width="36.22" height="0.40" fill="#DFC940"/>
<rect x="1125.52" y="512.91" width="36.22" height="1.24" fill="#CDD38D"/>
<rect x="1125.52" y="514.15" width="36.22" height="3.23" fill="#7B9E3B"/>
<rect x="1125.52" y="517.38" width="36.22" height="110.02" fill="#E07B4E"/>
<rect x="1163.76" y="695.20" width="40.22" height="550.10" fill="#fff"/>
<rect x="1163.76" y="592.10" width="40.22" height="35.30" fill="#fff"/>
<rect x="1165.76" y="697.20" width="36.22" height="4.70" fill="#7FCCEA"/>
<rect x="1165.76" y="701.90" width="36.22" height="2.50" fill="#2E9A75"/>
<rect x="1165.76" y="704.40" width="36.22" height="3.40" fill="#9BB34F"/>
<rect x="1165.76" y="707.80" width="36.22" height="2.70" fill="#BDA685"/>
<rect x="1165.76" y="710.50" width="36.22" height="6.20" fill="#DFC940"/>
<rect x="1165.76" y="716.70" width="36.22" height="19.50" fill="#CDD38D"/>
<rect x="1165.76" y="736.20" width="36.22" height="48.40" fill="#7B9E3B"/>
<rect x="1165.76" y="784.60" width="36.22" height="460.70" fill="#E07B4E"/>
<rect x="1165.76" y="594.10" width="36.22" height="0.29" fill="#7FCCEA"/>
<rect x="1165.76" y="594.39" width="36.22" height="0.15" fill="#2E9A75"/>
<rect x="1165.76" y="594.54" width="36.22" height="0.21" fill="#9BB34F"/>
<rect x="1165.76" y="594.74" width="36.22" height="0.16" fill="#BDA685"/>
<rect x="1165.76" y="594.91" width="36.22" height="0.38" fill="#DFC940"/>
<rect x="1165.76" y="595.28" width="36.22" height="1.18" fill="#CDD38D"/>
<rect x="1165.76" y="596.47" width="36.22" height="2.94" fill="#7B9E3B"/>
<rect x="1165.76" y="599.41" width="36.22" height="27.99" fill="#E07B4E"/>
<rect x="1204.00" y="695.20" width="40.22" height="550.10" fill="#fff"/>
<rect x="1204.00" y="603.50" width="40.22" height="23.90" fill="#fff"/>
<rect x="1206.00" y="697.20" width="36.22" height="1.40" fill="#7FCCEA"/>
<rect x="1206.00" y="698.60" width="36.22" height="2.10" fill="#74A1D8"/>
<rect x="1206.00" y="700.70" width="36.22" height="6.80" fill="#BDA685"/>
<rect x="1206.00" y="707.50" width="36.22" height="13.90" fill="#DFC940"/>
<rect x="1206.00" y="721.40" width="36.22" height="43.40" fill="#CDD38D"/>
<rect x="1206.00" y="764.80" width="36.22" height="66.70" fill="#7B9E3B"/>
<rect x="1206.00" y="831.50" width="36.22" height="413.80" fill="#E07B4E"/>
<rect x="1206.00" y="605.50" width="36.22" height="0.06" fill="#7FCCEA"/>
<rect x="1206.00" y="605.56" width="36.22" height="0.08" fill="#74A1D8"/>
<rect x="1206.00" y="605.64" width="36.22" height="0.27" fill="#BDA685"/>
<rect x="1206.00" y="605.91" width="36.22" height="0.56" fill="#DFC940"/>
<rect x="1206.00" y="606.47" width="36.22" height="1.73" fill="#CDD38D"/>
<rect x="1206.00" y="608.20" width="36.22" height="2.67" fill="#7B9E3B"/>
<rect x="1206.00" y="610.87" width="36.22" height="16.53" fill="#E07B4E"/>
</g>
<text font-family="Liberation Sans, sans-serif" font-size="31.95" fill="#1a1a1a" transform="translate(158.34,1367.00) rotate(-90) scale(1,1.055)">Alice</text>
<text font-family="Liberation Sans, sans-serif" font-size="31.82" fill="#1a1a1a" transform="translate(198.58,1370.30) rotate(-90) scale(1,1.055)">Bonus</text>
<text font-family="Liberation Sans, sans-serif" font-size="32.06" fill="#1a1a1a" transform="translate(238.82,1369.70) rotate(-90) scale(1,1.055)">Henry</text>
<text font-family="Liberation Sans, sans-serif" font-size="32.22" fill="#1a1a1a" transform="translate(279.06,1368.20) rotate(-90) scale(1,1.055)">Hugh</text>
<text font-family="Liberation Sans, sans-serif" font-size="30.8" fill="#1a1a1a" transform="translate(319.30,1366.00) rotate(-90) scale(1,1.055)">Kuia</text>
<text font-family="Liberation Sans, sans-serif" font-size="31.68" fill="#1a1a1a" transform="translate(359.54,1375.20) rotate(-90) scale(1,1.055)">Ngatapa</text>
<text font-family="Liberation Sans, sans-serif" font-size="31.91" fill="#1a1a1a" transform="translate(399.78,1365.30) rotate(-90) scale(1,1.055)">Nog</text>
<text font-family="Liberation Sans, sans-serif" font-size="32.11" fill="#1a1a1a" transform="translate(440.02,1372.00) rotate(-90) scale(1,1.055)">Zephyr</text>
<text font-family="Liberation Sans, sans-serif" font-size="31.58" fill="#F00" transform="translate(480.26,1367.50) rotate(-90) scale(1,1.055)">Bella</text>
<text font-family="Liberation Sans, sans-serif" font-size="32.25" fill="#F00" transform="translate(520.50,1373.20) rotate(-90) scale(1,1.055)">George</text>
<text font-family="Liberation Sans, sans-serif" font-size="32.87" fill="#F00" transform="translate(560.74,1368.55) rotate(-90) scale(1,1.055)">Merv</text>
<text font-family="Liberation Sans, sans-serif" font-size="32.21" fill="#F00" transform="translate(600.98,1374.90) rotate(-90) scale(1,1.055)">Phoenix</text>
<text font-family="Liberation Sans, sans-serif" font-size="32.83" fill="#F00" transform="translate(641.22,1370.55) rotate(-90) scale(1,1.055)">Titapu</text>
<text font-family="Liberation Sans, sans-serif" font-size="32.83" fill="#F00" transform="translate(681.46,1371.15) rotate(-90) scale(1,1.055)">Tiwhiri</text>
<text font-family="Liberation Sans, sans-serif" font-size="31.14" fill="#1a1a1a" transform="translate(732.94,1370.20) rotate(-90) scale(1,1.055)">ANC1</text>
<text font-family="Liberation Sans, sans-serif" font-size="32.25" fill="#1a1a1a" transform="translate(773.18,1370.20) rotate(-90) scale(1,1.055)">ANC2</text>
<text font-family="Liberation Sans, sans-serif" font-size="32.15" fill="#1a1a1a" transform="translate(813.42,1370.20) rotate(-90) scale(1,1.055)">ANC3</text>
<text font-family="Liberation Sans, sans-serif" font-size="31.96" fill="#1a1a1a" transform="translate(853.66,1370.20) rotate(-90) scale(1,1.055)">ANC4</text>
<text font-family="Liberation Sans, sans-serif" font-size="30.17" fill="#1a1a1a" transform="translate(893.90,1367.55) rotate(-90) scale(1,1.055)">WH1</text>
<text font-family="Liberation Sans, sans-serif" font-size="32.21" fill="#1a1a1a" transform="translate(934.14,1367.55) rotate(-90) scale(1,1.055)">WH2</text>
<text font-family="Liberation Sans, sans-serif" font-size="31.72" fill="#1a1a1a" transform="translate(974.38,1366.65) rotate(-90) scale(1,1.055)">WH3</text>
<text font-family="Liberation Sans, sans-serif" font-size="31.5" fill="#1a1a1a" transform="translate(1014.62,1366.65) rotate(-90) scale(1,1.055)">WH4</text>
<text font-family="Liberation Sans, sans-serif" font-size="32.18" fill="#1a1a1a" transform="translate(1066.44,1367.10) rotate(-90) scale(1,1.055)">Day 0</text>
<text font-family="Liberation Sans, sans-serif" font-size="30.95" fill="#1a1a1a" transform="translate(1106.68,1367.10) rotate(-90) scale(1,1.055)">Day 1</text>
<text font-family="Liberation Sans, sans-serif" font-size="32.28" fill="#1a1a1a" transform="translate(1146.92,1367.10) rotate(-90) scale(1,1.055)">Day 2</text>
<text font-family="Liberation Sans, sans-serif" font-size="32.18" fill="#1a1a1a" transform="translate(1187.16,1367.10) rotate(-90) scale(1,1.055)">Day 8</text>
<text font-family="Liberation Sans, sans-serif" font-size="32.07" fill="#1a1a1a" transform="translate(1227.40,1367.10) rotate(-90) scale(1,1.055)">Day 10</text>
<text font-family="Liberation Sans, sans-serif" font-size="22.5" fill="#1e1e1e" transform="translate(62.45,162.20) scale(1,1.055)">60000</text>
<text font-family="Liberation Sans, sans-serif" font-size="22.5" fill="#1e1e1e" transform="translate(62.45,317.87) scale(1,1.055)">40000</text>
<text font-family="Liberation Sans, sans-serif" font-size="22.5" fill="#1e1e1e" transform="translate(62.45,473.53) scale(1,1.055)">20000</text>
<text font-family="Liberation Sans, sans-serif" font-size="22.5" fill="#1e1e1e" transform="translate(108.85,629.60) scale(1,1.055)">0</text>
<text font-family="Liberation Sans, sans-serif" font-size="22.5" fill="#1e1e1e" transform="translate(89.75,699.70) scale(1,1.055)">100</text>
<text font-family="Liberation Sans, sans-serif" font-size="22.5" fill="#1e1e1e" transform="translate(102.50,836.73) scale(1,1.055)">75</text>
<text font-family="Liberation Sans, sans-serif" font-size="22.5" fill="#1e1e1e" transform="translate(102.25,973.75) scale(1,1.055)">50</text>
<text font-family="Liberation Sans, sans-serif" font-size="22.5" fill="#1e1e1e" transform="translate(102.50,1110.78) scale(1,1.055)">25</text>
<text font-family="Liberation Sans, sans-serif" font-size="22.5" fill="#1e1e1e" transform="translate(114.75,1247.80) scale(1,1.055)">0</text>
<text font-family="Liberation Sans, sans-serif" font-size="33.6" fill="#000" transform="translate(46.90,549.30) rotate(-90) scale(1,1.055)">Absolute Abundance (TPM)</text>
<text font-family="Liberation Sans, sans-serif" font-size="38.4" fill="#000" transform="translate(56.00,1177.60) rotate(-90) scale(1,1.055)">Relative Abundance (%)</text>
<text font-family="Liberation Sans, sans-serif" font-size="44.5" font-weight="bold" fill="#000" transform="translate(33.15,65.20) scale(1,1.055)">A)</text>
<text font-family="Liberation Sans, sans-serif" font-size="44.5" font-weight="bold" fill="#000" transform="translate(21.00,688.90) scale(1,1.055)">B)</text>
<text font-family="Liberation Sans, sans-serif" font-size="35" fill="#000" transform="translate(374.40,34.60) scale(1,1.055)">Adult</text>
<text font-family="Liberation Sans, sans-serif" font-size="35" fill="#000" transform="translate(828.05,34.40) scale(1,1.055)">Chick</text>
<text font-family="Liberation Sans, sans-serif" font-size="35" fill="#000" transform="translate(1121.90,34.40) scale(1,1.055)">Joe</text>
<text font-family="Liberation Sans, sans-serif" font-size="28.8" font-weight="bold" fill="#000" transform="translate(636.05,1409.50) scale(1,1.055)">Sample</text>
<text font-family="Liberation Sans, sans-serif" font-size="29.0" fill="#000" transform="translate(6.05,1451.30) scale(1,1.055)">Family</text>
<rect x="8.2" y="1472.00" width="24.2" height="24" fill="#1B6631"/>
<text font-family="Liberation Sans, sans-serif" font-size="29.15" fill="#000" transform="translate(42.00,1489.50) scale(1,1.055)">Totiviridae</text>
<rect x="8.2" y="1498.45" width="24.2" height="24" fill="#8A68A8"/>
<text font-family="Liberation Sans, sans-serif" font-size="29.15" fill="#000" transform="translate(42.00,1515.95) scale(1,1.055)">Straboviridae</text>
<rect x="8.2" y="1524.90" width="24.2" height="24" fill="#DD7566"/>
<text font-family="Liberation Sans, sans-serif" font-size="29.15" fill="#000" transform="translate(42.00,1542.40) scale(1,1.055)">Solemoviridae</text>
<rect x="8.2" y="1551.35" width="24.2" height="24" fill="#74A1D8"/>
<text font-family="Liberation Sans, sans-serif" font-size="29.15" fill="#000" transform="translate(42.00,1568.85) scale(1,1.055)">Peduoviridae</text>
<rect x="8.2" y="1577.80" width="24.2" height="24" fill="#8B1A1A"/>
<text font-family="Liberation Sans, sans-serif" font-size="29.15" fill="#000" transform="translate(42.00,1595.30) scale(1,1.055)">Mitoviridae</text>
<rect x="8.2" y="1604.25" width="24.2" height="24" fill="#7FCCEA"/>
<text font-family="Liberation Sans, sans-serif" font-size="29.15" fill="#000" transform="translate(42.00,1621.75) scale(1,1.055)">Fiersviridae</text>
<rect x="250.2" y="1472.00" width="24.2" height="24" fill="#A9A9A9"/>
<text font-family="Liberation Sans, sans-serif" font-size="29.15" fill="#000" transform="translate(284.00,1489.50) scale(1,1.055)">Duinviridae</text>
<rect x="250.2" y="1498.45" width="24.2" height="24" fill="#8E4FA5"/>
<text font-family="Liberation Sans, sans-serif" font-size="29.15" fill="#000" transform="translate(284.00,1515.95) scale(1,1.055)">Autographviridae</text>
<rect x="250.2" y="1524.90" width="24.2" height="24" fill="#4B2882"/>
<text font-family="Liberation Sans, sans-serif" font-size="29.15" fill="#000" transform="translate(284.00,1542.40) scale(1,1.055)">Unclassified viruses</text>
<rect x="250.2" y="1551.35" width="24.2" height="24" fill="#262A7F"/>
<text font-family="Liberation Sans, sans-serif" font-size="29.15" fill="#000" transform="translate(284.00,1568.85) scale(1,1.055)">Reoviridae</text>
<rect x="250.2" y="1577.80" width="24.2" height="24" fill="#4349A5"/>
<text font-family="Liberation Sans, sans-serif" font-size="29.15" fill="#000" transform="translate(284.00,1595.30) scale(1,1.055)">Unclassified bacterial viruses</text>
<rect x="250.2" y="1604.25" width="24.2" height="24" fill="#2E9A75"/>
<text font-family="Liberation Sans, sans-serif" font-size="29.15" fill="#000" transform="translate(284.00,1621.75) scale(1,1.055)">Unclassified Picornavirales</text>
<rect x="670.8" y="1472.00" width="24.2" height="24" fill="#7456AD"/>
<text font-family="Liberation Sans, sans-serif" font-size="29.15" fill="#000" transform="translate(704.50,1489.50) scale(1,1.055)">Flaviviridae</text>
<rect x="670.8" y="1498.45" width="24.2" height="24" fill="#76561F"/>
<text font-family="Liberation Sans, sans-serif" font-size="29.15" fill="#000" transform="translate(704.50,1515.95) scale(1,1.055)">Partitiviridae</text>
<rect x="670.8" y="1524.90" width="24.2" height="24" fill="#D5875E"/>
<text font-family="Liberation Sans, sans-serif" font-size="29.15" fill="#000" transform="translate(704.50,1542.40) scale(1,1.055)">Unclassified Reovirales</text>
<rect x="670.8" y="1551.35" width="24.2" height="24" fill="#9BB34F"/>
<text font-family="Liberation Sans, sans-serif" font-size="29.15" fill="#000" transform="translate(704.50,1568.85) scale(1,1.055)">Other</text>
<rect x="670.8" y="1577.80" width="24.2" height="24" fill="#BDA685"/>
<text font-family="Liberation Sans, sans-serif" font-size="29.15" fill="#000" transform="translate(704.50,1595.30) scale(1,1.055)">Potyviridae</text>
<rect x="670.8" y="1604.25" width="24.2" height="24" fill="#DFC940"/>
<text font-family="Liberation Sans, sans-serif" font-size="29.15" fill="#000" transform="translate(704.50,1621.75) scale(1,1.055)">Virgaviridae</text>
<rect x="1017.5" y="1472.00" width="24.2" height="24" fill="#CDD38D"/>
<text font-family="Liberation Sans, sans-serif" font-size="29.15" fill="#000" transform="translate(1050.80,1489.50) scale(1,1.055)">Tombusviridae</text>
<rect x="1017.5" y="1498.45" width="24.2" height="24" fill="#7B9E3B"/>
<text font-family="Liberation Sans, sans-serif" font-size="29.15" fill="#000" transform="translate(1050.80,1515.95) scale(1,1.055)">Unclassified Caudoviricetes</text>
<rect x="1017.5" y="1524.90" width="24.2" height="24" fill="#E07B4E"/>
<text font-family="Liberation Sans, sans-serif" font-size="29.15" fill="#000" transform="translate(1050.80,1542.40) scale(1,1.055)">Unclassified Riboviria</text>
</svg>
</body></html>
